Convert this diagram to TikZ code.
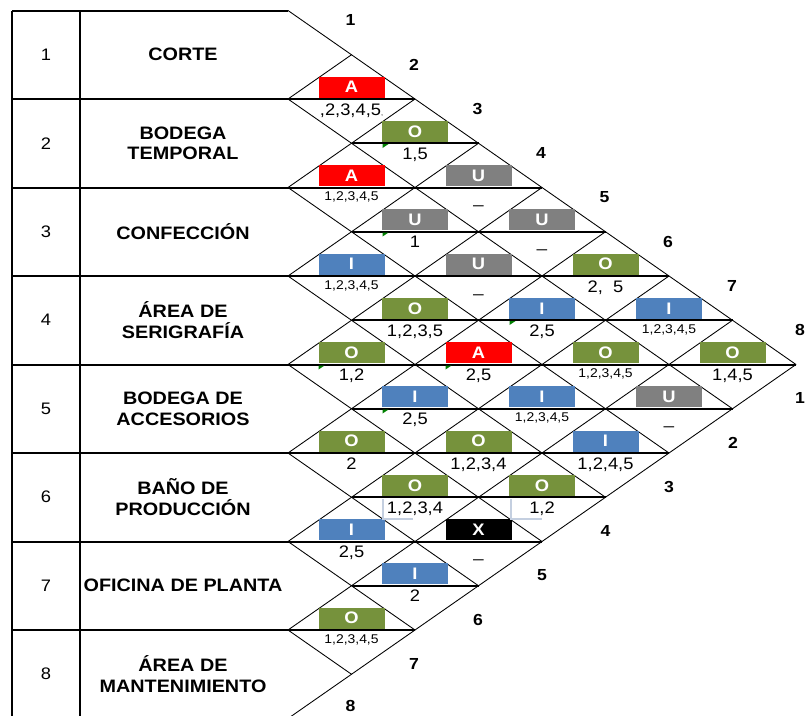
\documentclass[tikz,border=0pt]{standalone}
\usepackage{fontspec}
\setmainfont[FakeStretch=1.1]{Liberation Sans}
\usepackage{tikz}
\usetikzlibrary{positioning}
\definecolor{relA}{RGB}{255,0,0}
\definecolor{relO}{RGB}{118,146,60}
\definecolor{relI}{RGB}{79,129,189}
\definecolor{relU}{RGB}{128,128,128}
\definecolor{relX}{RGB}{0,0,0}
\definecolor{flagcol}{RGB}{0,128,0}
\definecolor{bracketcol}{RGB}{196,207,224}
\tikzset{
  tabline/.style={line width=1.5pt},
  midline/.style={line width=1.5pt},
  diag/.style={line width=0.65pt},
  rbox/.style={minimum width=49.5pt,minimum height=15.75pt,inner sep=0pt,
               anchor=south,text=white,font=\fontsize{12.5}{13}\selectfont\bfseries},
  reason/.style={anchor=base,inner sep=0pt,font=\fontsize{12.5}{13}\selectfont},
  reasonsm/.style={reason,yshift=2.25pt,font=\fontsize{9.5}{10}\selectfont},
  dept/.style={align=center,font=\fontsize{13.5}{15.5}\selectfont\bfseries},
  deptno/.style={font=\fontsize{12.5}{13}\selectfont},
  axisno/.style={font=\fontsize{12}{13}\selectfont\bfseries},
  flag/.style={fill=flagcol},
  bracket/.style={draw=bracketcol,line width=0.8pt},
}
\newcommand{\relcell}[7]{%
  \node[rbox,fill=#4] (#1) at (#2,#3-1) {#5};
  \node[#7] (#1t) at (#2,#3+16) {#6};}

\begin{document}
\begin{tikzpicture}[x=0.75pt,y=-0.75pt]
  \useasboundingbox (0,0) rectangle (807,715);
  % table frame
  \draw[tabline] (12,10.5) -- (288,10.5);
  \draw[tabline] (12,10.5) -- (12,720);
  \draw[tabline] (80,10.5) -- (80,720);
  % row lines running into the diamonds
  \draw[tabline] (12,99) -- (415,99);
  \draw[tabline] (12,187.5) -- (542,187.5);
  \draw[tabline] (12,276) -- (669,276);
  \draw[tabline] (12,364.5) -- (796,364.5);
  \draw[tabline] (12,453) -- (669,453);
  \draw[tabline] (12,541.5) -- (542,541.5);
  \draw[tabline] (12,630) -- (415,630);
  \draw[tabline] (12,718.5) -- (288,718.5);
  \draw[midline] (351.5,143.25) -- (478.5,143.25);
  \draw[midline] (351.5,231.75) -- (605.5,231.75);
  \draw[midline] (351.5,320.25) -- (732.5,320.25);
  \draw[midline] (351.5,408.75) -- (732.5,408.75);
  \draw[midline] (351.5,497.25) -- (605.5,497.25);
  \draw[midline] (351.5,585.75) -- (478.5,585.75);
  % lattice
  \foreach \k in {0,...,7}
    \draw[diag] (288,10.5+88.5*\k) -- ({288+63.5*(8-\k)},{10.5+88.5*\k+44.25*(8-\k)});
  \foreach \k in {1,...,8}
    \draw[diag] (288,10.5+88.5*\k) -- ({288+63.5*\k},{10.5+44.25*\k});

  % departments
  \node[deptno] (n1) at (46,54.75) {1};
  \node[deptno] (n2) at (46,143.25) {2};
  \node[deptno] (n3) at (46,231.75) {3};
  \node[deptno] (n4) at (46,320.25) {4};
  \node[deptno] (n5) at (46,408.75) {5};
  \node[deptno] (n6) at (46,497.25) {6};
  \node[deptno] (n7) at (46,585.75) {7};
  \node[deptno] (n8) at (46,674.25) {8};
  \node[dept] (d1) at (183,54.75) {CORTE};
  \node[dept] (d2) at (183,143.25) {BODEGA\\TEMPORAL};
  \node[dept] (d3) at (183,231.75) {CONFECCIÓN};
  \node[dept] (d4) at (183,320.25) {ÁREA DE\\SERIGRAFÍA};
  \node[dept] (d5) at (183,408.75) {BODEGA DE\\ACCESORIOS};
  \node[dept] (d6) at (183,497.25) {BAÑO DE\\PRODUCCIÓN};
  \node[dept] (d7) at (183,585.75) {OFICINA DE PLANTA};
  \node[dept] (d8) at (183,674.25) {ÁREA DE\\MANTENIMIENTO};

  % axis numbers
  \node[axisno] (t1) at (350.5,20) {1};
  \node[axisno] (t2) at (414,64.5) {2};
  \node[axisno] (t3) at (477.5,108.5) {3};
  \node[axisno] (t4) at (541,153) {4};
  \node[axisno] (t5) at (604.5,197) {5};
  \node[axisno] (t6) at (668,241.5) {6};
  \node[axisno] (t7) at (732,286) {7};
  \node[axisno] (t8) at (800,330) {8};
  \node[axisno] (r1) at (800,398) {1};
  \node[axisno] (r2) at (733,442.5) {2};
  \node[axisno] (r3) at (669,487) {3};
  \node[axisno] (r4) at (605.5,531) {4};
  \node[axisno] (r5) at (542,575.5) {5};
  \node[axisno] (r6) at (478,620) {6};
  \node[axisno] (r7) at (414,664) {7};
  \node[axisno] (r8) at (350.5,706) {8};

  % relations
  \relcell{c12}{351.5}{99}{relA}{A}{,2,3,4,5{\tiny,}}{reason}
  \relcell{c13}{415}{143.25}{relO}{O}{1,5}{reason}
  \relcell{c14}{478.5}{187.5}{relU}{U}{\_}{reason}
  \relcell{c23}{351.5}{187.5}{relA}{A}{1,2,3,4,5}{reasonsm}
  \relcell{c15}{542}{231.75}{relU}{U}{\_}{reason}
  \relcell{c24}{415}{231.75}{relU}{U}{1}{reason}
  \relcell{c16}{605.5}{276}{relO}{O}{2,\ \ 5}{reason}
  \relcell{c25}{478.5}{276}{relU}{U}{\_}{reason}
  \relcell{c34}{351.5}{276}{relI}{I}{1,2,3,4,5}{reasonsm}
  \relcell{c17}{669}{320.25}{relI}{I}{1,2,3,4,5}{reasonsm}
  \relcell{c26}{542}{320.25}{relI}{I}{2,5}{reason}
  \relcell{c35}{415}{320.25}{relO}{O}{1,2,3,5}{reason}
  \relcell{c18}{732.5}{364.5}{relO}{O}{1,4,5}{reason}
  \relcell{c27}{605.5}{364.5}{relO}{O}{1,2,3,4,5}{reasonsm}
  \relcell{c36}{478.5}{364.5}{relA}{A}{2,5}{reason}
  \relcell{c45}{351.5}{364.5}{relO}{O}{1,2}{reason}
  \relcell{c28}{669}{408.75}{relU}{U}{\_}{reason}
  \relcell{c37}{542}{408.75}{relI}{I}{1,2,3,4,5}{reasonsm}
  \relcell{c46}{415}{408.75}{relI}{I}{2,5}{reason}
  \relcell{c38}{605.5}{453}{relI}{I}{1,2,4,5}{reason}
  \relcell{c47}{478.5}{453}{relO}{O}{1,2,3,4}{reason}
  \relcell{c56}{351.5}{453}{relO}{O}{2}{reason}
  \relcell{c48}{542}{497.25}{relO}{O}{1,2}{reason}
  \relcell{c57}{415}{497.25}{relO}{O}{1,2,3,4}{reason}
  \relcell{c58}{478.5}{541.5}{relX}{X}{\_}{reason}
  \relcell{c67}{351.5}{541.5}{relI}{I}{2,5}{reason}
  \relcell{c68}{415}{585.75}{relI}{I}{2}{reason}
  \relcell{c78}{351.5}{630}{relO}{O}{1,2,3,4,5}{reasonsm}

  % comment marks and cell borders
  \fill[flag] (382.5,144) -- ++(6,0) -- ++(-6,4) -- cycle;
  \fill[flag] (382.5,232.5) -- ++(6,0) -- ++(-6,4) -- cycle;
  \fill[flag] (509.5,321) -- ++(6,0) -- ++(-6,4) -- cycle;
  \fill[flag] (318.5,365.5) -- ++(6,0) -- ++(-6,4) -- cycle;
  \fill[flag] (445.5,365.5) -- ++(6,0) -- ++(-6,4) -- cycle;
  \fill[flag] (382.5,409.5) -- ++(6,0) -- ++(-6,4) -- cycle;
  \draw[bracket] (383,499) -- (383,519) -- (413,519);
  \draw[bracket] (511,499) -- (511,519) -- (542,519);
\end{tikzpicture}
\end{document}
